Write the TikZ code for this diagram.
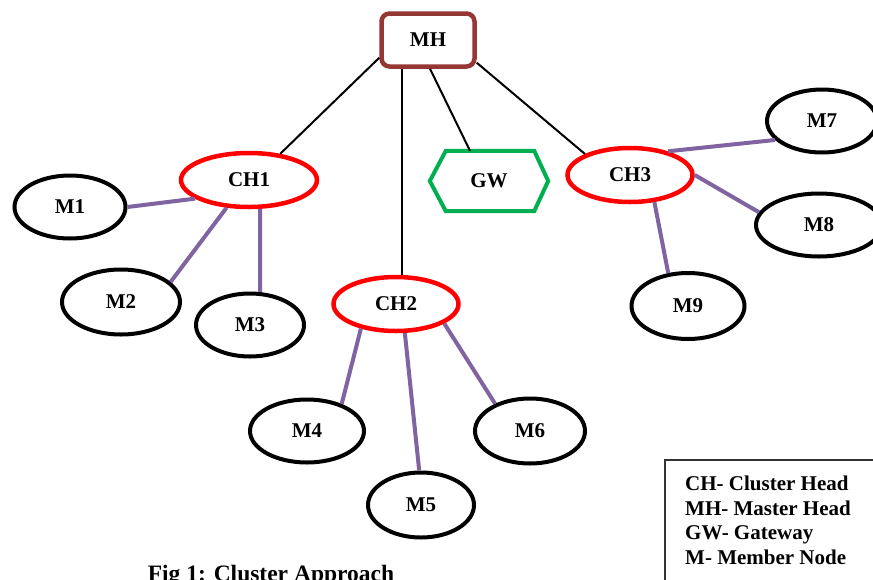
\documentclass[tikz,border=0pt]{standalone}
\usepackage{fontspec}
\setmainfont{Liberation Serif}
\usetikzlibrary{shapes.geometric}
\definecolor{mhbrown}{HTML}{953735}
\definecolor{gwgreen}{HTML}{00B050}
\definecolor{linkpurple}{HTML}{8064A2}
\tikzset{
  lbl/.style={font=\fontsize{21}{24.5}\selectfont\bfseries},
  member/.style={ellipse, draw=black, line width=4pt, inner sep=0pt, lbl},
  head/.style={ellipse, draw=red, line width=4.5pt, inner sep=0pt, lbl},
  master/.style={rectangle, rounded corners=8pt, draw=mhbrown, line width=4.5pt, inner sep=0pt, minimum width=93pt, minimum height=53pt, lbl},
  gate/.style={rectangle, inner sep=0pt, minimum width=118pt, minimum height=60pt, lbl},
  uplink/.style={draw=black, line width=2pt},
  memlink/.style={draw=linkpurple, line width=4pt},
}
\begin{document}
\begin{tikzpicture}[x=1pt,y=-1pt]
\useasboundingbox (0,0) rectangle (873,579);
% nodes
\node[master] (MH) at (428,40) {MH};
\node[head, minimum width=136pt, minimum height=54pt] (CH1) at (249,180) {CH1};
\node[head, minimum width=125pt, minimum height=54pt] (CH2) at (396,304) {CH2};
\node[head, minimum width=125pt, minimum height=54pt] (CH3) at (630,175) {CH3};
\node[gate] (GW) at (489,181) {GW};
\draw[draw=gwgreen, line width=4pt, line join=miter]
  (GW.west) -- ([xshift=16pt]GW.north west) -- ([xshift=-14pt]GW.north east) -- (GW.east)
  -- ([xshift=-14pt]GW.south east) -- ([xshift=16pt]GW.south west) -- cycle;
\node[member, minimum width=111pt, minimum height=63pt] (M1) at (70,207) {M1};
\node[member, minimum width=118pt, minimum height=65pt] (M2) at (121,302) {M2};
\node[member, minimum width=108pt, minimum height=63pt] (M3) at (250,325) {M3};
\node[member, minimum width=114pt, minimum height=63pt] (M4) at (307,431) {M4};
\node[member, minimum width=106pt, minimum height=65pt] (M5) at (421,505) {M5};
\node[member, minimum width=110pt, minimum height=65pt] (M6) at (530,431) {M6};
\node[member, minimum width=110pt, minimum height=63pt] (M7) at (822,121) {M7};
\node[member, minimum width=126pt, minimum height=63pt] (M8) at (819,225) {M8};
\node[member, minimum width=113pt, minimum height=66pt] (M9) at (688,306) {M9};
% uplinks
\draw[uplink] (MH.200) -- (CH1.40);
\draw[uplink] ([xshift=-26pt]MH.south) -- ([xshift=6pt]CH2.north);
\draw[uplink] ([xshift=2pt]MH.south) -- ([xshift=-19pt]GW.north);
\draw[uplink] (MH.-25) -- (CH3.155);
% member links
\draw[memlink] (CH1.199) -- (M1.east);
\draw[memlink] (CH1.231) -- (M2.22);
\draw[memlink] (CH1.-69) -- (M3.73);
\draw[memlink] (CH2.215) -- (M4.38);
\draw[memlink] (CH2.-73) -- (M5.93);
\draw[memlink] (CH2.-22) -- (M6.142);
\draw[memlink] (CH3.32) -- (M7.202);
\draw[memlink] (CH3.east) -- (M8.168);
\draw[memlink] (CH3.-48) -- (M9.121);
% legend
\draw[draw=black!80, line width=1.3pt] (665,460) rectangle (900,600);
\node[lbl, anchor=north west, inner sep=0pt, align=left] (legend) at (685,476)
  {CH- Cluster Head\\MH- Master Head\\GW- Gateway\\M- Member Node};
% caption
\node[font=\fontsize{23.5}{27}\selectfont\bfseries, anchor=base, inner sep=0pt] (caption) at (271,581) {Fig 1: Cluster Approach};
\end{tikzpicture}
\end{document}
